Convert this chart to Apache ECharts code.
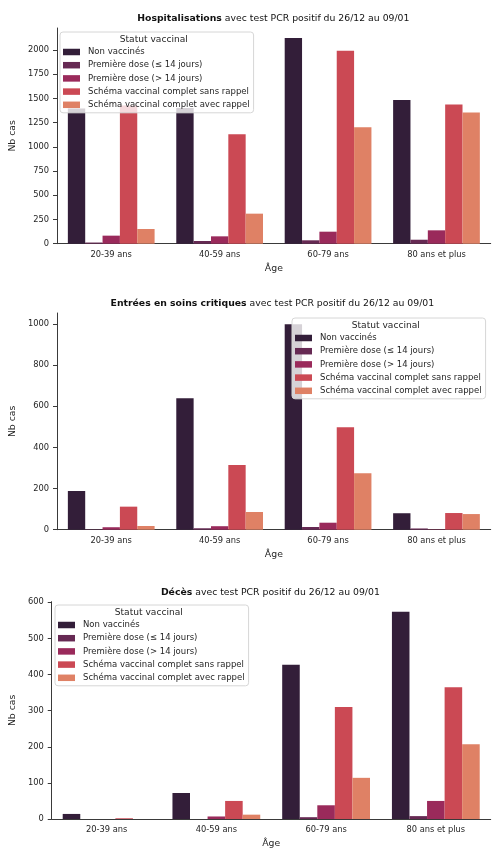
<!DOCTYPE html>
<html><head><meta charset="utf-8">
<script src="https://cdn.jsdelivr.net/npm/echarts@6/dist/echarts.min.js"></script>
<style>html,body{margin:0;padding:0;background:#fff}#c{width:504px;height:855px}</style>
</head><body><div id="c"></div>
<script>
var categories = ['20-39 ans', '40-59 ans', '60-79 ans', '80 ans et plus'];
var statuts = ['Non vaccinés', 'Première dose (≤ 14 jours)', 'Première dose (> 14 jours)', 'Schéma vaccinal complet sans rappel', 'Schéma vaccinal complet avec rappel'];

// Hospitalisations
var hospNonVacc   = [1395, 1400, 2122, 1484];
var hospDose1Le14 = [12, 28, 35, 41];
var hospDose1Gt14 = [83, 76, 124, 138];
var hospSansRapp  = [1425, 1130, 1991, 1436];
var hospAvecRapp  = [152, 310, 1202, 1353];
// Soins critiques
var scNonVacc   = [188, 639, 998, 80];
var scDose1Le14 = [2, 7, 13, 6];
var scDose1Gt14 = [12, 17, 34, 2];
var scSansRapp  = [112, 314, 498, 81];
var scAvecRapp  = [18, 86, 274, 76];
// Décès
var dcNonVacc   = [14, 72, 427, 574];
var dcDose1Le14 = [0, 0, 5, 8];
var dcDose1Gt14 = [0, 7, 38, 50];
var dcSansRapp  = [2, 50, 310, 365];
var dcAvecRapp  = [0, 12, 114, 207];

var hospTicks = [0, 250, 500, 750, 1000, 1250, 1500, 1750, 2000];
var scTicks = [0, 200, 400, 600, 800, 1000];
var dcTicks = [0, 100, 200, 300, 400, 500, 600];

var titles = ['Hospitalisations', 'Entrées en soins critiques', 'Décès'];
var titleSuffix = ' avec test PCR positif du 26/12 au 09/01';
var legendTitle = 'Statut vaccinal';
var yName = 'Nb cas';
var xName = 'Âge';

var colors = ['#331e39', '#662953', '#9a2a5b', '#cb4954', '#df8165'];
var FONT = 'DejaVu Sans';
var TXT = '#262626';
var AX = '#3a3a3a';

var datasets = [
  [hospNonVacc, hospDose1Le14, hospDose1Gt14, hospSansRapp, hospAvecRapp],
  [scNonVacc, scDose1Le14, scDose1Gt14, scSansRapp, scAvecRapp],
  [dcNonVacc, dcDose1Le14, dcDose1Gt14, dcSansRapp, dcAvecRapp]
];
var ticks = [hospTicks, scTicks, dcTicks];
var ymax = [2226, 1053, 601.7];
var grids = [
  {left: 56, right: 13.3, top: 28, height: 215.7},
  {left: 54, right: 13.3, top: 313, height: 216.7},
  {left: 50, right: 13.3, top: 601.7, height: 217.3}
];
var nameGaps = [35, 33, 29];
var legendPos = [{left: 60, top: 32}, {left: 292, top: 318}, {left: 55, top: 605}];

var option = {
  animation: false,
  color: colors,
  textStyle: {fontFamily: FONT, color: TXT},
  grid: grids,
  xAxis: [], yAxis: [], series: [], legend: [], graphic: []
};

for (var g = 0; g < 3; g++) {
  option.xAxis.push({
    type: 'category', gridIndex: g, data: categories,
    name: xName, nameLocation: 'middle', nameGap: 20,
    nameTextStyle: {fontFamily: FONT, fontSize: 9.3, color: TXT},
    axisLine: {lineStyle: {color: AX, width: 1}},
    axisTick: {alignWithLabel: true, length: 4, lineStyle: {color: AX}},
    axisLabel: {fontFamily: FONT, fontSize: 8.3, color: TXT, margin: 7}
  });
  option.yAxis.push({
    type: 'value', gridIndex: g, min: 0, max: ymax[g],
    name: yName, nameLocation: 'middle', nameGap: nameGaps[g], nameRotate: 90,
    nameTextStyle: {fontFamily: FONT, fontSize: 9.3, color: TXT},
    splitLine: {show: false},
    axisLine: {show: true, lineStyle: {color: AX, width: 1}},
    axisTick: {show: true, length: 4, lineStyle: {color: AX}, customValues: ticks[g]},
    axisLabel: {fontFamily: FONT, fontSize: 8.3, color: TXT, margin: 8, customValues: ticks[g],
      formatter: function (v) { return String(v); }}
  });
  for (var s = 0; s < 5; s++) {
    option.series.push({
      type: 'bar', name: statuts[s], xAxisIndex: g, yAxisIndex: g,
      data: datasets[g][s], barGap: '0%', barCategoryGap: '20%',
      itemStyle: {color: colors[s]}
    });
  }
  option.legend.push({
    orient: 'vertical', left: legendPos[g].left, top: legendPos[g].top,
    data: statuts, selectedMode: false,
    backgroundColor: 'rgba(255,255,255,0.8)', borderColor: '#d6d6d6', borderWidth: 1, borderRadius: 3,
    padding: [15, 4, 3, 3],
    itemWidth: 17, itemHeight: 6.5, itemGap: 3.2, icon: 'rect',
    textStyle: {fontFamily: FONT, fontSize: 8.5, color: TXT, lineHeight: 10, padding: [0, 0, 0, 3]}
  });
  var cx = grids[g].left + (504 - grids[g].left - grids[g].right) / 2;
  option.graphic.push({
    type: 'text', x: cx, y: grids[g].top - 9.5, z: 100,
    style: {
      text: '{b|' + titles[g] + '}' + titleSuffix,
      rich: {b: {fontWeight: 'bold', fontFamily: FONT, fontSize: 9.3, fill: '#111'}},
      fontFamily: FONT, fontSize: 9.3, fill: '#111', align: 'center', verticalAlign: 'middle'
    }
  });
}
var chart = echarts.init(document.getElementById('c'));
chart.setOption(option);

// legend titles centered on each legend box
function addLegendTitles() {
  var gl = [];
  for (var g = 0; g < 3; g++) {
    var lv = chart._componentsViews.filter(function (v) { return v.type === 'legend.plain' && v.__model && v.__model.componentIndex === g; })[0];
    var rect = lv ? lv.group.getBoundingRect() : null;
    var x = legendPos[g].left + (rect ? rect.width / 2 + rect.x : 96);
    gl.push({
      type: 'text', x: x, y: legendPos[g].top + 8, z: 100,
      style: {text: legendTitle, fontFamily: FONT, fontSize: 9.1, fill: TXT, align: 'center', verticalAlign: 'middle'}
    });
  }
  chart.setOption({graphic: option.graphic.concat(gl)});
}
addLegendTitles();
</script></body></html>
